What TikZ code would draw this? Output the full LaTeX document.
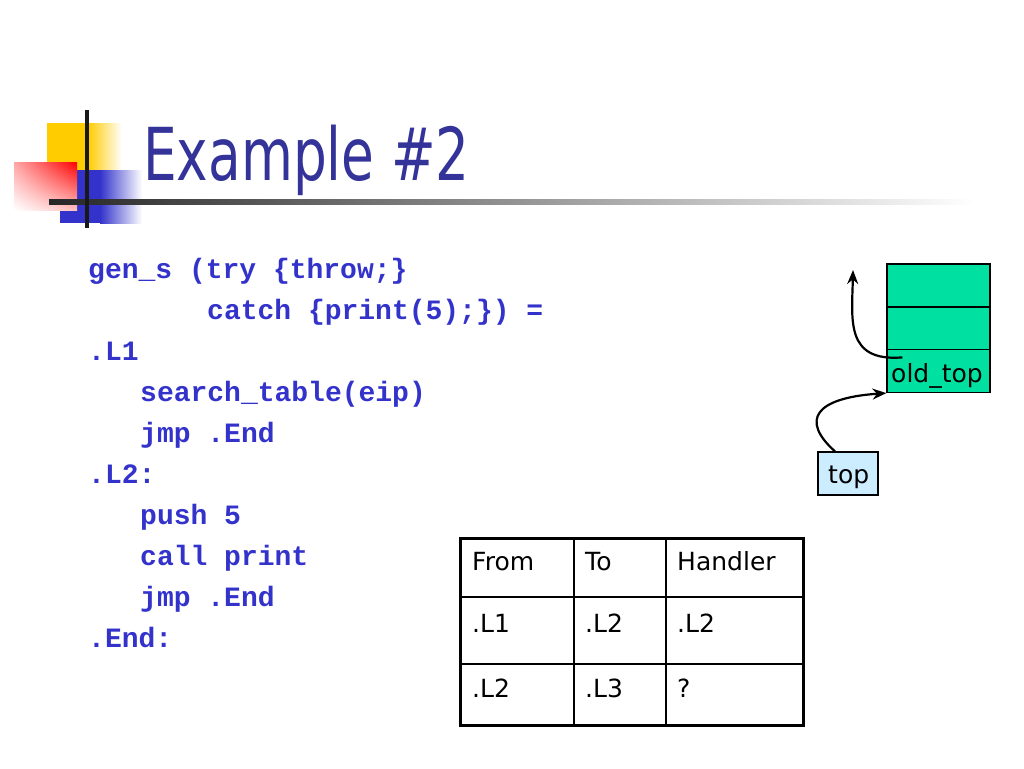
\documentclass[tikz,border=0pt]{standalone}
\usepackage{fontspec}
\setmainfont{DejaVu Sans}
\setmonofont{Liberation Mono}
\newfontfamily\titlefont{DejaVu Sans}[FakeStretch=0.73]
\usetikzlibrary{arrows.meta,shadings}
\definecolor{titleblue}{RGB}{51,51,153}
\definecolor{codeblue}{RGB}{51,51,204}
\definecolor{stackgreen}{RGB}{0,224,160}
\definecolor{topblue}{RGB}{204,236,255}
\definecolor{logoyellow}{RGB}{255,204,0}
\definecolor{logoblue}{RGB}{51,51,204}
\begin{document}
\begin{tikzpicture}[x=1pt,y=-1pt,
  code/.style={anchor=base west, inner sep=0, font=\fontsize{28}{28}\ttfamily\bfseries, text=codeblue},
  cell/.style={anchor=base west, inner sep=0, font=\fontsize{25}{25}\selectfont},
  stackcell/.style={draw=black, fill=stackgreen, line width=1.2pt, minimum width=103pt, minimum height=43pt, inner sep=0},
  ptr/.style={-{Stealth[length=14pt,width=11pt]}, line width=2.2pt}]
\useasboundingbox (0,0) rectangle (1024,768);
\fill[white] (0,0) rectangle (1024,768);
% logo
\fill[logoyellow] (47,123) rectangle (88,170);
\shade[left color=logoyellow, right color=white] (88,123) rectangle (122,170);
\fill[logoblue] (60,170) rectangle (100,223);
\shade[left color=logoblue, right color=white] (100,170) rectangle (142,223);
\shade[upper left=red!35, upper right=red, lower left=white, lower right=red!25] (14,162) rectangle (77,210);
\shade[left color=black!85, right color=white] (49,199) rectangle (975,204);
\draw[line width=4.5pt, black!90] (87,110) -- (87,228);
% title
\node[anchor=base west, inner sep=0, text=titleblue, font=\titlefont\fontsize{73}{73}\selectfont] (title) at (143,180) {Example \#2};
% code
\node[code] (l1) at (88,278) {gen\_s (try \{throw;\}};
\node[code] (l2) at (207,319) {catch \{print(5);\}) =};
\node[code] (l3) at (88,360) {.L1};
\node[code] (l4) at (140,401) {search\_table(eip)};
\node[code] (l5) at (140,442) {jmp .End};
\node[code] (l6) at (88,483) {.L2:};
\node[code] (l7) at (140,524) {push 5};
\node[code] (l8) at (140,565) {call print};
\node[code] (l9) at (140,606) {jmp .End};
\node[code] (l10) at (88,647) {.End:};
% stack
\node[stackcell] (c1) at (938.5,285.5) {};
\node[stackcell] (c2) at (938.5,328.5) {};
\node[stackcell] (c3) at (938.5,371) {};
\node[cell] (oldtop) at (891,382) {old\_top};
\node[draw=black, fill=topblue, line width=1.2pt, minimum width=60pt, minimum height=43pt, inner sep=0] (topbox) at (848,473.5) {};
\node[cell] (toplabel) at (828,483) {top};
\coordinate (up) at (853,270);
\draw[ptr] ([xshift=-13pt]topbox.north) .. controls (800,420) and (815,398) .. (c3.south west);
\draw[ptr] ([shift={(16,8.5)}]c3.north west) .. controls (845,362) and (852,320) .. (up);
% table
\draw[line width=1.3pt] (574,538) -- (574,725);
\draw[line width=1.3pt] (666,538) -- (666,725);
\draw[line width=1.3pt] (460,597) -- (803,597);
\draw[line width=1.3pt] (460,664) -- (803,664);
\draw[line width=3pt] (460,538) rectangle (803,725);
\node[cell] (h1) at (472,570) {From};
\node[cell] (h2) at (585,570) {To};
\node[cell] (h3) at (677,570) {Handler};
\node[cell] (a1) at (472,632) {.L1};
\node[cell] (a2) at (585,632) {.L2};
\node[cell] (a3) at (677,632) {.L2};
\node[cell] (b1) at (472,697) {.L2};
\node[cell] (b2) at (585,697) {.L3};
\node[cell] (b3) at (677,697) {?};
\end{tikzpicture}
\end{document}
